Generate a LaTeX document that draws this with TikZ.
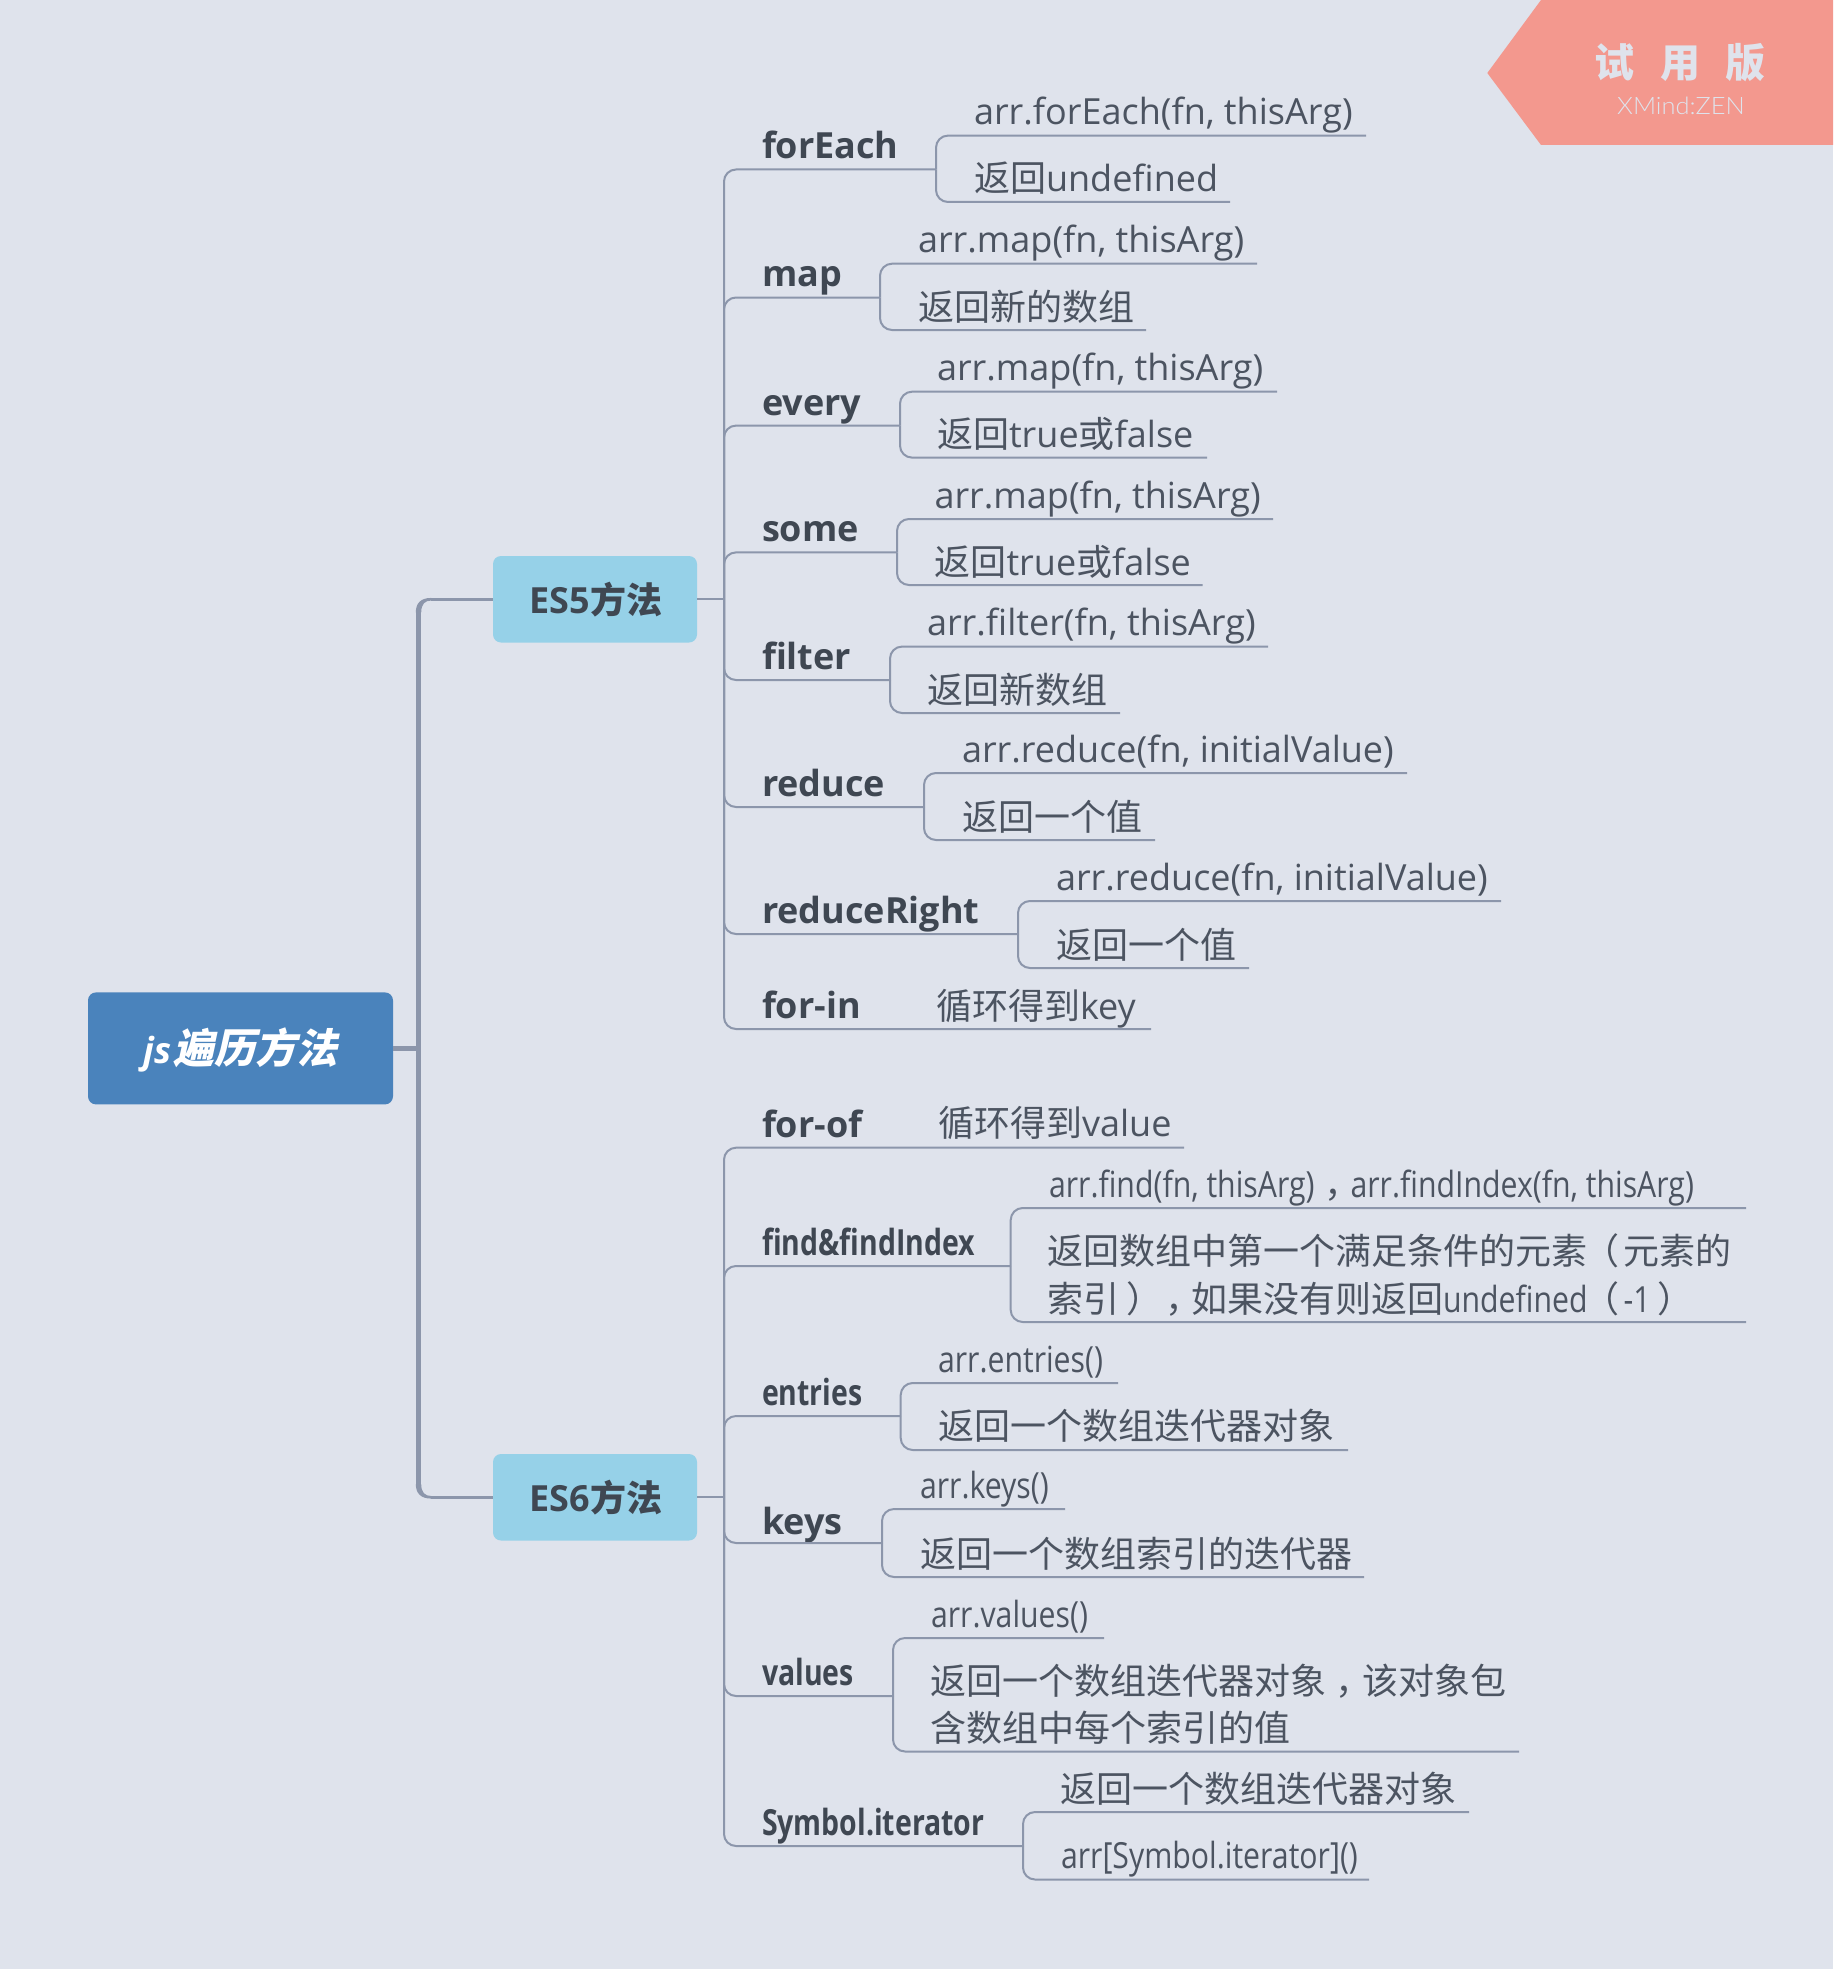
\documentclass[tikz,border=0pt]{standalone}
\usepackage{fontspec}
\setmainfont{Open Sans}
\newfontfamily\cjk{Noto Sans CJK SC}
\newfontfamily\cjkp{Noto Sans CJK TC}
\newfontfamily\cjkit[FakeSlant=0.22]{Noto Sans CJK SC}
\newfontfamily\condf[FakeStretch=0.84]{Open Sans}
\newfontfamily\condb[FakeStretch=0.79]{Open Sans}
\newfontfamily\xmf[FakeStretch=1.06]{Lato Light}
\newcommand{\zh}[1]{{\cjk #1}}
\newcommand{\cd}[1]{{\condf #1}}
\newcommand{\cb}[1]{{\condb #1}}
% full-width punctuation set centred in its cell
\newcommand{\lpar}{{\cjkp\kern-4pt （\kern4pt}}
\newcommand{\rpar}{{\cjkp\kern7pt ）\kern-7pt}}
\newcommand{\cmm}{{\cjk\kern10pt ，\kern-10pt}}
\definecolor{bgc}{HTML}{DFE3EC}
\definecolor{linec}{HTML}{8C96AB}
\definecolor{txtc}{HTML}{4C5461}
\definecolor{boldc}{HTML}{3F4752}
\definecolor{rootc}{HTML}{4A83BC}
\definecolor{esc}{HTML}{96D1E8}
\definecolor{badgec}{HTML}{F3988E}
\tikzset{
  conn/.style={draw=linec,line width=2pt,rounded corners=12pt},
  mainconn/.style={draw=linec,line width=5.4pt},
  mainthin/.style={draw=linec,line width=2.6pt},
  mainfill/.style={fill=linec},
  leaf/.style={anchor=base west,inner sep=0pt,outer sep=0pt,text=txtc,font=\fontsize{36}{46.5}\selectfont},
  leaftwo/.style={leaf,align=left},
  topic/.style={anchor=base west,inner sep=0pt,outer sep=0pt,text=boldc,font=\fontsize{36}{46}\selectfont\bfseries},
  rootbox/.style={fill=rootc,rounded corners=8pt,minimum width=305pt,minimum height=112pt,inner sep=0pt,text=white,font=\fontsize{41}{48}\selectfont\bfseries},
  esbox/.style={fill=esc,rounded corners=8pt,minimum width=204pt,minimum height=86.5pt,inner sep=0pt,text=boldc,font=\fontsize{36}{46}\selectfont\bfseries}
}
% \brn{name}{line y}{junction x}{text}
\newcommand{\brn}[4]{%
  \node[topic] (#1) at (762,{#2-10.5}) {#4};
  \coordinate (#1-j) at (#3,#2);
}
% \lf{name}{x}{line y}{right end x}{text}
\newcommand{\lf}[5]{%
  \node[leaf] (#1) at (#2,{#3-11}) {#5};
  \coordinate (#1-e) at (#4,#3);
}
\newcommand{\lfb}[5]{%
  \node[leaf] (#1) at (#2,{#3-10}) {#5};
  \coordinate (#1-e) at (#4,#3);
}
\begin{document}
\begin{tikzpicture}[x=1pt,y=-1pt]
\useasboundingbox (0,0) rectangle (1833,1969);
\fill[bgc] (0,0) rectangle (1833,1969);

% badge
\fill[badgec] (1541,0) -- (1833,0) -- (1833,145) -- (1541,145) -- (1487.3,73) -- cycle;
\node[inner sep=0pt,text=bgc,font=\fontsize{40}{48}\selectfont\bfseries] (badgecn) at (1680,63) {\zh{试\hspace{25.5pt}用\hspace{25.5pt}版}};
\node[inner sep=0pt,text=bgc,font=\fontsize{24}{30}\selectfont] (badgeen) at (1681,106) {\xmf XMind:ZEN};

% main nodes
\node[rootbox] (root) at (240.5,1048.4) {\raisebox{-15.5pt}[0pt][0pt]{\itshape{\fontsize{36}{48}\selectfont js}\hspace{2pt}{\cjkit 遍历方法}}};
\node[esbox] (es5) at (595,599.25) {\hspace*{2pt}ES5\zh{方法}};
\node[esbox] (es6) at (595,1497.25) {\hspace*{2pt}ES6\zh{方法}};

\coordinate (tm) at (418.5,1048.4);
\coordinate (tmA) at (418.5,612);
\coordinate (tmB) at (418.5,1484.5);
\coordinate (cA) at (431,599.25);
\coordinate (cB) at (431,1497.25);
\coordinate (t5) at (724,599.25);
\coordinate (t6) at (724,1497.25);

\draw[mainconn] (root.east) -- (tm);
\draw[mainconn] (tmA) -- (tmB);
% tapered bends of the main trunk
\fill[mainfill] (415.8,612.5) .. controls (415.8,603) and (421,597.95) .. (431,597.95) -- (431,600.55) .. controls (425,600.55) and (421.2,604) .. (421.2,612.5) -- cycle;
\fill[mainfill] (415.8,1484) .. controls (415.8,1493.5) and (421,1498.55) .. (431,1498.55) -- (431,1495.95) .. controls (425,1495.95) and (421.2,1492.5) .. (421.2,1484) -- cycle;
\draw[mainthin] (cA) -- (es5.west);
\draw[mainthin] (cB) -- (es6.west);
\draw[conn] (es5.east) -- (t5);
\draw[conn] (es6.east) -- (t6);

% ES5 topics
\brn{forEach}{169.5}{936}{forEach}
\lf{a1}{974}{135.6}{1366}{arr.forEach(fn, thisArg)}
\lfb{a2}{974}{202}{1230}{\zh{返回}undefined}

\brn{map}{297.5}{880}{map}
\lf{b1}{918}{263.7}{1257}{arr.map(fn, thisArg)}
\lfb{b2}{918}{330}{1146}{\zh{返回新的数组}}

\brn{every}{425.6}{900}{every}
\lf{c1}{937}{391.7}{1277}{arr.map(fn, thisArg)}
\lfb{c2}{937}{457.6}{1207}{\zh{返回}true\zh{或}false}

\brn{some}{552.4}{897}{some}
\lf{d1}{934.5}{519}{1273}{arr.map(fn, thisArg)}
\lfb{d2}{934.5}{585}{1202.5}{\zh{返回}true\zh{或}false}

\brn{filter}{680}{890}{filter}
\lf{e1}{927}{646.6}{1268}{arr.filter(fn, thisArg)}
\lfb{e2}{927}{713}{1120}{\zh{返回新数组}}

\brn{reduce}{807}{924}{reduce}
\lf{f1}{962}{773}{1407}{arr.reduce(fn, initialValue)}
\lfb{f2}{962}{840}{1155}{\zh{返回一个值}}

\brn{reduceRight}{934}{1018}{reduceRight}
\lf{g1}{1056}{901}{1501}{arr.reduce(fn, initialValue)}
\lfb{g2}{1056}{968}{1249}{\zh{返回一个值}}

\brn{forin}{1029}{936}{for-in}
\lfb{h1}{936}{1029}{1151}{\zh{循环得到}key}

% ES6 topics
\brn{forof}{1147.7}{938}{for-of}
\lf{i1}{938}{1147.7}{1184}{\zh{循环得到}value}

\brn{find}{1266}{1010.7}{\cb{find\&findIndex}}
\lf{j1}{1049}{1208}{1746}{\cd{arr.find(fn, thisArg)}\cmm\cd{arr.findIndex(fn, thisArg)}}
\node[leaftwo,font=\fontsize{36}{47.5}\selectfont] (j2) at (1047,1312) {\zh{返回数组中第一个满足条件的元素}\lpar\zh{元素的}\\\zh{索引}\rpar\cmm\zh{如果没有则返回}\cd{undefined}\lpar\cd{-1}\rpar};
\coordinate (j2-e) at (1746,1322);

\brn{entries}{1416}{900.7}{\cb{entries}}
\lf{k1}{938}{1383}{1118}{\cd{arr.entries()}}
\lf{k2}{938}{1450}{1348}{\zh{返回一个数组迭代器对象}}

\node[topic] (keys) at (762,1534.5) {keys};
\coordinate (keys-j) at (882,1543);
\lf{l1}{920}{1509}{1065}{\cd{arr.keys()}}
\lfb{l2}{920}{1577}{1364}{\zh{返回一个数组索引的迭代器}}

\brn{values}{1696}{893}{\cb{values}}
\lf{m1}{931}{1638}{1104}{\cd{arr.values()}}
\node[leaftwo] (m2) at (930,1741) {\zh{返回一个数组迭代器对象}\cmm\zh{该对象包}\\\zh{含数组中每个索引的值}};
\coordinate (m2-e) at (1519,1751.5);

\brn{symbol}{1846}{1023}{\cb{Symbol.iterator}}
\lfb{n1}{1060}{1812}{1469}{\zh{返回一个数组迭代器对象}}
\lf{n2}{1061}{1879.5}{1369}{\cd{arr[Symbol.iterator]()}}

% second level connectors
\foreach \tp in {forEach,map,every,some,filter,reduce,reduceRight}
  \draw[conn] (t5) |- (\tp-j);
\draw[conn] (t5) |- (h1-e);
\foreach \tp in {find,entries,keys,values,symbol}
  \draw[conn] (t6) |- (\tp-j);
\draw[conn] (t6) |- (i1-e);

% third level connectors
\foreach \tp/\up/\dn in {forEach/a1/a2,map/b1/b2,every/c1/c2,some/d1/d2,filter/e1/e2,reduce/f1/f2,reduceRight/g1/g2,find/j1/j2,entries/k1/k2,keys/l1/l2,values/m1/m2,symbol/n1/n2}{
  \draw[conn] (\tp-j) |- (\up-e);
  \draw[conn] (\tp-j) |- (\dn-e);
}
\end{tikzpicture}
\end{document}
